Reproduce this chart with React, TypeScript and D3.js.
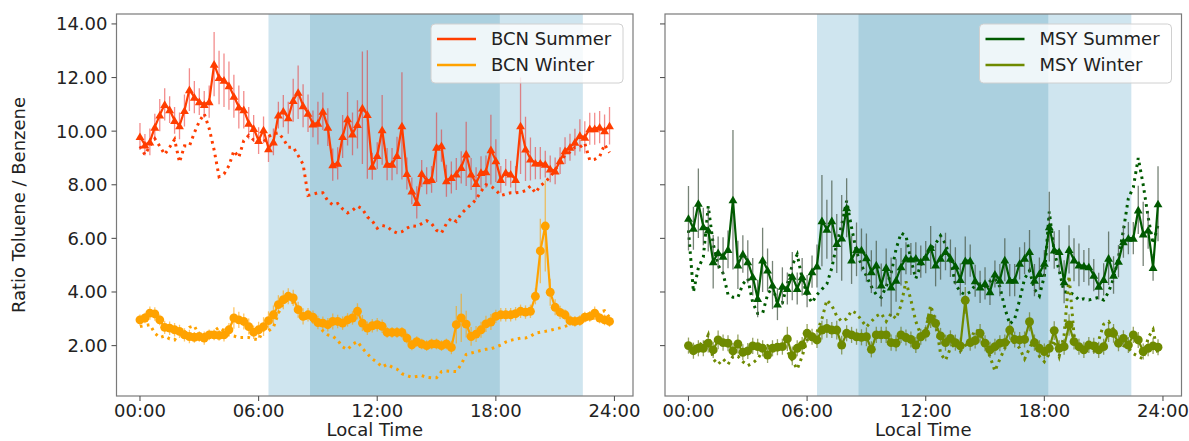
import React from "react";
import * as d3 from "d3";

// ---------- DATA ----------
const hours = d3.range(96).map((i) => i * 0.25);
const xTickHours = [0, 6, 12, 18, 24];
const xTickLabels = ["00:00", "06:00", "12:00", "18:00", "24:00"];
const yTicks = [2, 4, 6, 8, 10, 12, 14];
const lightSpan = [6.5, 22.4];
const darkSpan = [8.6, 18.2];

const bcnSummer = [9.8,9.49,9.6,10.15,10.6,11.0,10.8,10.4,10.2,10.77,11.55,11.27,11.1,11.0,11.1,12.5,12.0,11.9,11.7,11.3,10.9,10.8,10.3,10.1,
9.65,10.05,9.35,9.6,10.6,10.75,10.5,11.15,11.45,10.95,10.67,10.27,10.3,10.74,10.15,8.75,8.8,9.8,10.46,9.9,10.25,10.87,10.62,8.69,
9.09,10.05,8.77,8.77,9.09,10.2,8.42,7.77,7.34,8.42,8.15,8.2,9.4,9.46,8.15,8.27,8.4,8.65,9.15,8.4,8.05,8.46,8.49,9.31,
8.9,8.2,8.46,8.4,8.2,10.2,9.34,8.96,8.81,8.81,8.77,8.59,8.52,8.9,9.27,9.4,9.59,9.84,9.77,10.09,10.09,10.15,10.02,10.2];
const bcnSummerErr = [0.5,0.4,0.5,0.5,0.6,0.6,0.5,0.5,0.5,0.6,0.8,0.6,0.5,0.5,0.6,1.2,1.0,1.0,0.9,0.8,0.8,0.7,0.6,0.5,
0.5,0.5,0.5,0.5,0.5,0.6,0.6,0.8,1.0,0.8,0.7,0.5,0.8,0.7,0.7,0.6,0.6,0.8,1.0,0.8,0.9,2.1,2.4,0.5,
0.5,1.3,0.6,0.6,0.7,2.0,0.6,0.5,0.6,0.5,0.5,0.5,1.3,0.6,0.6,0.6,0.6,0.6,1.2,0.6,0.6,0.6,0.6,1.3,
0.8,0.5,0.5,0.5,0.5,1.8,1.2,0.8,0.6,0.6,0.5,0.5,0.5,0.5,0.5,0.5,0.5,0.6,0.6,0.6,0.6,0.6,0.6,0.7];
const bcnSummerRef = [9.44,9.12,9.45,9.72,9.44,9.13,9.4,9.69,8.84,9.45,9.44,9.94,10.36,10.65,10.1,9.3,8.3,8.4,8.71,9.27,9.02,9.65,9.84,9.67,
9.71,9.59,9.8,9.9,9.94,9.71,9.4,9.4,9.09,8.77,7.6,7.65,7.7,7.7,7.4,7.25,7.3,7.1,6.95,7.05,7.2,7.1,6.8,6.65,
6.38,6.48,6.44,6.28,6.2,6.25,6.38,6.47,6.45,6.55,6.66,6.55,6.3,6.2,6.55,6.75,6.63,6.92,7.1,7.26,7.45,7.75,8.0,7.95,
7.8,7.6,7.65,7.7,7.7,7.72,7.78,7.95,7.7,7.96,8.1,8.3,8.55,8.85,9.1,9.22,9.4,9.4,9.55,8.92,8.95,9.05,9.5,9.2];

const bcnWinter = [2.96,3.03,3.21,3.18,2.96,2.68,2.65,2.59,2.53,2.4,2.34,2.31,2.34,2.28,2.4,2.4,2.38,2.4,2.59,3.03,2.96,2.9,2.71,2.5,
2.59,2.71,2.93,3.15,3.53,3.71,3.84,3.78,3.34,3.09,3.15,3.06,2.86,2.84,2.78,2.9,2.9,2.84,2.96,3.03,3.28,2.84,2.65,2.74,
2.78,2.72,2.49,2.49,2.49,2.49,2.28,2.03,2.15,2.06,2.0,2.06,2.06,2.0,2.06,1.93,2.78,3.03,2.8,2.34,2.43,2.59,2.81,2.88,
3.09,3.15,3.15,3.15,3.19,3.28,3.25,3.28,3.84,5.53,6.46,3.99,3.43,3.24,3.15,2.93,2.9,2.93,3.06,3.09,3.21,3.03,2.96,2.9];
const bcnWinterErr = [0.2,0.2,0.25,0.25,0.2,0.25,0.25,0.25,0.25,0.25,0.25,0.2,0.2,0.25,0.2,0.2,0.2,0.25,0.25,0.4,0.3,0.3,0.3,0.25,
0.3,0.35,0.35,0.35,0.35,0.35,0.3,0.3,0.3,0.3,0.25,0.25,0.25,0.25,0.25,0.3,0.25,0.25,0.25,0.25,0.3,0.3,0.25,0.25,
0.25,0.25,0.2,0.2,0.2,0.2,0.2,0.2,0.2,0.2,0.2,0.2,0.2,0.2,0.2,0.25,0.7,0.9,0.5,0.35,0.3,0.3,0.3,0.3,
0.25,0.25,0.25,0.25,0.25,0.25,0.25,0.25,0.3,1.2,1.7,0.5,0.3,0.25,0.2,0.2,0.2,0.2,0.2,0.2,0.25,0.2,0.2,0.2];
const bcnWinterRef = [2.71,2.75,2.78,2.46,2.3,2.36,2.25,2.21,2.49,2.5,2.68,2.74,2.36,2.42,2.46,2.55,2.68,2.55,2.4,2.36,2.3,2.3,2.3,2.25,
2.21,2.59,2.55,2.68,3.21,3.6,3.7,3.6,3.3,3.1,3.0,2.9,2.8,2.55,2.4,2.35,2.2,1.95,1.85,2.05,2.15,1.9,1.7,1.5,
1.38,1.2,1.3,1.2,1.12,0.95,0.88,0.82,0.85,0.88,0.82,0.8,0.8,1.03,1.05,1.04,1.03,1.3,1.67,1.72,1.77,1.82,1.86,1.88,
1.95,2.02,2.13,2.2,2.24,2.28,2.28,2.35,2.46,2.5,2.53,2.57,2.62,2.66,2.72,2.78,2.84,2.9,2.95,3.0,3.03,3.25,3.3,3.05];

const msySummer = [6.75,6.38,7.31,6.44,6.31,5.13,5.47,5.34,5.59,7.44,5.01,5.42,5.13,4.57,3.76,5.2,4.82,4.26,3.55,4.22,4.13,4.59,4.13,4.57,
4.03,4.76,4.97,6.66,6.34,6.66,5.81,6.02,7.14,5.2,5.59,5.57,5.28,4.76,5.01,4.26,4.92,4.19,4.44,4.94,5.26,5.23,5.26,5.13,
5.3,5.66,5.01,5.26,5.51,5.26,4.97,4.47,5.17,5.17,4.42,4.19,4.32,4.01,4.67,4.44,5.2,4.44,4.44,5.07,5.26,5.51,4.44,4.69,
5.07,6.44,5.57,5.51,4.38,5.59,5.2,5.01,4.97,4.94,4.63,4.22,4.47,5.26,4.63,5.15,5.88,6.01,6.01,7.06,6.17,6.31,4.92,7.29];
const msySummerErr = [1.2,0.8,1.3,0.7,0.8,1.0,0.6,0.7,0.7,2.6,0.9,0.7,0.8,0.7,0.7,1.2,0.8,0.9,0.6,0.7,0.6,0.9,0.6,0.7,
0.6,0.6,0.8,1.7,1.1,1.5,1.1,1.6,1.1,0.9,1.0,0.8,0.9,0.8,0.9,0.8,0.7,1.1,0.8,0.7,0.6,0.6,0.6,0.6,
0.6,0.8,0.8,0.8,0.7,0.7,0.7,0.6,0.9,0.6,0.6,0.6,0.6,0.5,0.5,0.6,0.8,0.6,0.6,0.6,0.6,0.8,0.6,0.6,
0.5,1.3,0.7,0.8,0.8,0.9,0.8,0.8,0.6,0.7,0.6,0.5,0.6,1.0,0.7,0.6,0.6,0.6,0.6,0.9,1.2,0.7,0.5,1.4];
const msySummerRef = [6.3,4.0,4.9,5.3,7.2,5.8,5.0,4.7,3.9,3.8,3.8,4.3,4.5,3.6,3.2,3.2,3.9,4.2,3.6,3.6,4.3,5.0,5.4,4.5,
3.9,3.6,3.9,4.1,4.3,4.9,5.8,6.5,7.4,6.4,5.5,5.0,4.6,4.2,3.9,3.8,4.2,4.7,5.6,6.2,6.1,5.2,4.5,5.0,
5.4,5.6,5.8,6.1,5.8,5.2,4.3,4.0,3.9,4.0,4.25,4.3,4.2,4.4,4.5,4.2,3.4,2.8,3.0,3.7,4.5,4.8,4.1,3.85,
4.6,7.0,5.5,4.8,4.0,4.0,3.9,3.7,3.75,3.7,3.75,3.8,3.7,4.0,4.5,5.3,6.3,7.5,7.9,9.0,8.0,6.8,5.8,6.5];

const msyWinter = [2.0,1.81,1.9,1.9,2.09,1.84,2.21,2.11,2.09,1.8,2.06,1.75,1.8,1.99,1.96,1.9,1.65,1.9,1.94,1.96,2.25,1.62,1.9,2.02,
2.46,2.33,2.21,2.58,2.64,2.58,2.58,2.02,2.46,2.4,2.33,2.31,2.33,1.86,2.4,2.4,2.4,2.11,2.09,2.4,2.3,2.23,2.02,2.33,
2.46,3.01,2.83,2.36,2.11,2.27,2.11,1.99,3.69,2.11,2.19,2.46,2.09,1.84,1.96,2.09,2.11,2.58,2.23,2.21,2.23,2.89,2.11,1.9,
1.78,1.9,2.56,1.9,1.96,2.77,2.15,1.96,1.84,2.02,1.99,1.84,1.96,2.48,2.46,2.09,2.27,2.02,2.4,2.21,1.78,1.9,1.99,1.94];
const msyWinterErr = [0.3,0.3,0.3,0.3,0.35,0.3,0.35,0.3,0.3,0.3,0.35,0.3,0.3,0.3,0.3,0.3,0.3,0.3,0.3,0.3,0.45,0.35,0.3,0.3,
0.35,0.3,0.3,0.35,0.35,0.3,0.35,0.35,0.3,0.3,0.3,0.3,0.35,0.3,0.3,0.3,0.3,0.3,0.3,0.3,0.3,0.3,0.3,0.3,
0.3,0.35,0.3,0.3,0.3,0.3,0.3,0.3,0.5,0.3,0.3,0.35,0.3,0.3,0.3,0.3,0.3,0.35,0.3,0.3,0.3,0.35,0.3,0.3,
0.3,0.3,0.35,0.3,0.3,0.4,0.3,0.3,0.3,0.3,0.3,0.3,0.3,0.35,0.35,0.3,0.3,0.3,0.3,0.3,0.3,0.3,0.3,0.3];
const msyWinterRef = [2.0,1.9,2.1,2.0,2.4,1.5,1.3,1.5,1.3,1.6,1.6,1.4,1.25,1.35,1.5,1.8,2.0,1.9,1.8,2.0,1.8,1.45,1.12,1.6,
2.2,2.4,2.5,3.0,3.7,3.5,3.1,2.9,3.0,3.3,3.2,2.95,2.7,2.9,3.1,3.2,2.9,3.2,3.0,3.5,4.4,3.7,2.9,2.4,
2.6,3.5,2.9,1.7,1.45,1.9,2.1,1.8,2.0,2.2,2.6,2.5,2.0,1.6,1.05,1.5,1.9,2.2,2.1,1.9,1.5,1.9,2.3,1.6,
1.4,1.7,2.2,1.6,2.4,4.6,2.4,1.8,2.0,1.9,1.8,2.2,2.8,2.9,2.6,2.2,2.0,1.9,1.7,1.6,1.5,2.3,2.6,1.65];

// ---------- STYLE ----------
const FONT = "DejaVu Sans, sans-serif";
const C_BCN_S = "#ff3d00";
const C_BCN_W = "#ffa200";
const C_MSY_S = "#005a00";
const C_MSY_W = "#6e8a00";
const LIGHT = "#cfe5ef";
const DARK = "#abd0df";

type Series = {
  vals: number[];
  err: number[];
  ref: number[];
  color: string;
  errColor: string;
  errOpacity: number;
  marker: "tri" | "circ";
};

const W = 1189;
const H = 441;
const top = 14;
const bottom = 396;

function Panel({ x0, x1, series, legend, showYLabels }: { x0: number; x1: number; series: Series[]; legend: { label: string; color: string }[]; showYLabels: boolean }) {
  const x = d3.scaleLinear().domain([-1.1875, 24.9375]).range([x0, x1]);
  const y = d3.scaleLinear().domain([0.12, 14.37]).range([bottom, top]);
  const line = d3.line<number>().x((_, i) => x(hours[i])).y((d) => y(d));
  const tri = d3.symbol(d3.symbolTriangle, 34)()!;
  const circ = d3.symbol(d3.symbolCircle, 62)()!;
  const clipId = `clip${Math.round(x0)}`;
  const lx = x1 - 202;
  return (
    <g>
      <defs>
        <clipPath id={clipId}>
          <rect x={x0} y={top} width={x1 - x0} height={bottom - top} />
        </clipPath>
      </defs>
      <rect x={x(lightSpan[0])} y={top} width={x(lightSpan[1]) - x(lightSpan[0])} height={bottom - top} fill={LIGHT} />
      <rect x={x(darkSpan[0])} y={top} width={x(darkSpan[1]) - x(darkSpan[0])} height={bottom - top} fill={DARK} />
      <g clipPath={`url(#${clipId})`}>
        {series.map((s, si) => (
          <path key={"ref" + si} d={line(s.ref)!} fill="none" stroke={s.color} strokeWidth={3} strokeDasharray="2.6 4.4" />
        ))}
        {series.map((s, si) => (
          <g key={"s" + si}>
            {s.vals.map((v, i) => (
              <line key={i} x1={x(hours[i])} x2={x(hours[i])} y1={y(v - s.err[i])} y2={y(v + s.err[i])} stroke={s.errColor} strokeOpacity={s.errOpacity} strokeWidth={1.3} />
            ))}
            <path d={line(s.vals)!} fill="none" stroke={s.color} strokeWidth={2.2} strokeLinejoin="round" />
            {s.vals.map((v, i) => (
              <path key={"m" + i} d={s.marker === "tri" ? tri : circ} transform={`translate(${x(hours[i])},${y(v) + (s.marker === "tri" ? 1 : 0)})`} fill={s.color} />
            ))}
          </g>
        ))}
      </g>
      <rect x={x0} y={top} width={x1 - x0} height={bottom - top} fill="none" stroke="#7a7a7a" strokeWidth={1.2} />
      {yTicks.map((t) => (
        <g key={t}>
          <line x1={x0 - 5} x2={x0} y1={y(t)} y2={y(t)} stroke="#555" strokeWidth={1.1} />
          {showYLabels && (
            <text x={x0 - 9} y={y(t)} dy="0.36em" textAnchor="end" fontSize={18} fontFamily={FONT} fill="#222">
              {t.toFixed(2)}
            </text>
          )}
        </g>
      ))}
      {xTickHours.map((h, i) => (
        <g key={h}>
          <line x1={x(h)} x2={x(h)} y1={bottom} y2={bottom + 5} stroke="#555" strokeWidth={1.1} />
          <text x={x(h)} y={417} textAnchor="middle" fontSize={18} fontFamily={FONT} fill="#222">
            {xTickLabels[i]}
          </text>
        </g>
      ))}
      <text x={(x0 + x1) / 2} y={436} textAnchor="middle" fontSize={18} fontFamily={FONT} fill="#222">
        Local Time
      </text>
      <rect x={lx} y={24} width={192} height={59} rx={4} fill="white" fillOpacity={0.8} stroke="#d0d0d0" strokeWidth={1} />
      {legend.map((l, i) => (
        <g key={l.label}>
          <line x1={lx + 6} x2={lx + 45} y1={39 + i * 26} y2={39 + i * 26} stroke={l.color} strokeWidth={2.4} />
          <text x={lx + 60} y={39 + i * 26} dy="0.36em" fontSize={18} fontFamily={FONT} fill="#222">
            {l.label}
          </text>
        </g>
      ))}
    </g>
  );
}

export default function App() {
  const left: Series[] = [
    { vals: bcnWinter, err: bcnWinterErr, ref: bcnWinterRef, color: C_BCN_W, errColor: C_BCN_W, errOpacity: 0.6, marker: "circ" },
    { vals: bcnSummer, err: bcnSummerErr, ref: bcnSummerRef, color: C_BCN_S, errColor: "#e83030", errOpacity: 0.55, marker: "tri" },
  ];
  const right: Series[] = [
    { vals: msySummer, err: msySummerErr, ref: msySummerRef, color: C_MSY_S, errColor: "#4a5a4a", errOpacity: 0.75, marker: "tri" },
    { vals: msyWinter, err: msyWinterErr, ref: msyWinterRef, color: C_MSY_W, errColor: "#6a7a20", errOpacity: 0.7, marker: "circ" },
  ];
  return (
    <svg width={W} height={H} style={{ position: "absolute", left: 0, top: 0, background: "white" }}>
      <Panel x0={116.5} x1={633} series={left} showYLabels={true}
        legend={[{ label: "BCN Summer", color: C_BCN_S }, { label: "BCN Winter", color: C_BCN_W }]} />
      <Panel x0={665} x1={1181.5} series={right} showYLabels={false}
        legend={[{ label: "MSY Summer", color: C_MSY_S }, { label: "MSY Winter", color: C_MSY_W }]} />
      <text transform={`translate(25,205) rotate(-90)`} textAnchor="middle" fontSize={18} fontFamily={FONT} fill="#222">
        Ratio Toluene / Benzene
      </text>
    </svg>
  );
}
